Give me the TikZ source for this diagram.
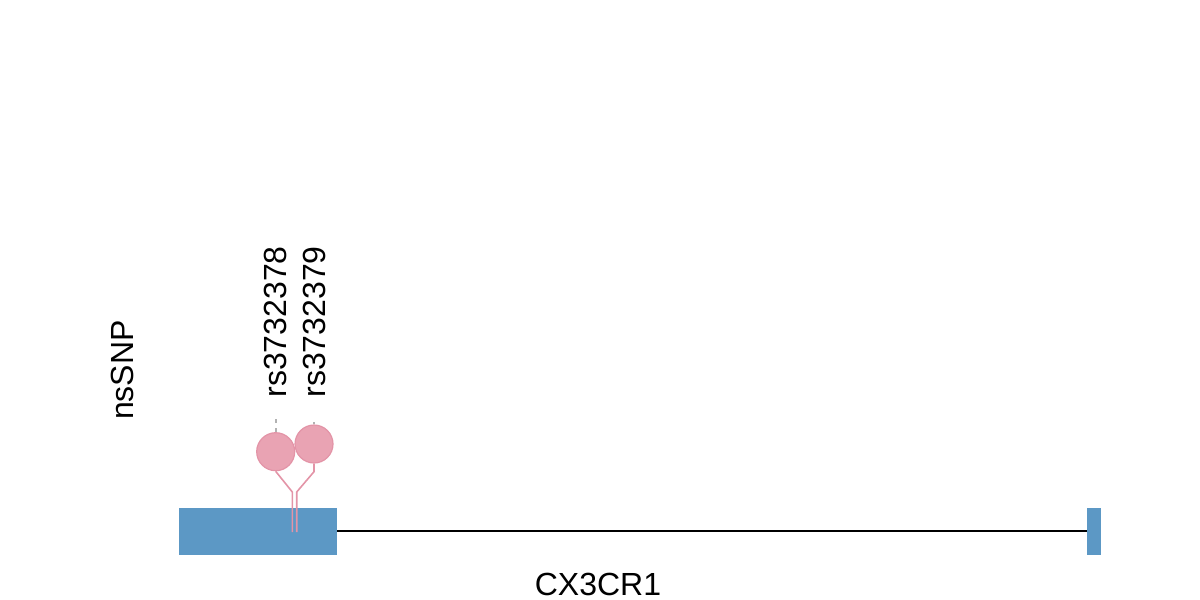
\documentclass[tikz,border=0pt]{standalone}
\usepackage{fontspec}
\setmainfont{Liberation Sans}
\usetikzlibrary{positioning,backgrounds}
\newlength{\du}
\setlength{\du}{0.5pt}
\definecolor{exoncolor}{rgb}{0.360000, 0.596000, 0.772000}
\definecolor{snpfill}{rgb}{0.914000, 0.639000, 0.702000}
\definecolor{snpline}{rgb}{0.890000, 0.580000, 0.655000}
\definecolor{tickcolor}{rgb}{0.700000, 0.700000, 0.700000}
\tikzset{
  exon/.style={fill=exoncolor, draw=none},
  snp/.style={circle, fill=snpfill, draw=snpline, line width=0.6pt, inner sep=0pt, minimum size=38\du},
  stem/.style={draw=snpline, line width=0.8pt},
  tick/.style={draw=tickcolor, line width=0.9pt, dash pattern=on 4\du off 5\du},
  lbl/.style={font=\fontsize{16pt}{18pt}\selectfont, inner sep=0pt}
}
\begin{document}
\begin{tikzpicture}[x=\du, y=-\du]
\useasboundingbox (0,0) rectangle (1200,600);
% lollipops
\node[snp] (snpA) at (275.7,451.7) {};
\node[snp] (snpB) at (314,444) {};
\coordinate (baseA) at (292.3,532);
\coordinate (kneeA) at (292.3,492);
\coordinate (baseB) at (296.7,532);
\coordinate (kneeB) at (296.7,492);
\coordinate (elbowB) at (314,471.7);
\coordinate (exonAend) at (337,531);
\coordinate (exonBstart) at (1087,531);
\begin{scope}[on background layer]
% exons
\fill[exon] (179,508) rectangle (337,555);
\fill[exon] (1087,508) rectangle (1101,555);
\draw[line width=1pt] (exonAend) -- (exonBstart);
\draw[stem] (baseA) -- (kneeA) -- (snpA.south);
\draw[stem] (baseB) -- (kneeB) -- (elbowB) -- (snpB.south);
\end{scope}
\coordinate (topA) at (275.7,419);
\coordinate (topB) at (314,422);
\draw[tick] (topA) -- (snpA.north);
\draw[tick] (topB) -- (snpB.north);
% labels
\node[lbl, rotate=90, anchor=west] (labA) at (275.7,398) {rs3732378};
\node[lbl, rotate=90, anchor=west] (labB) at (314,398) {rs3732379};
\node[lbl, rotate=90] (track) at (122,370) {nsSNP};
\node[lbl] (gene) at (598,584) {CX3CR1};
\end{tikzpicture}
\end{document}
